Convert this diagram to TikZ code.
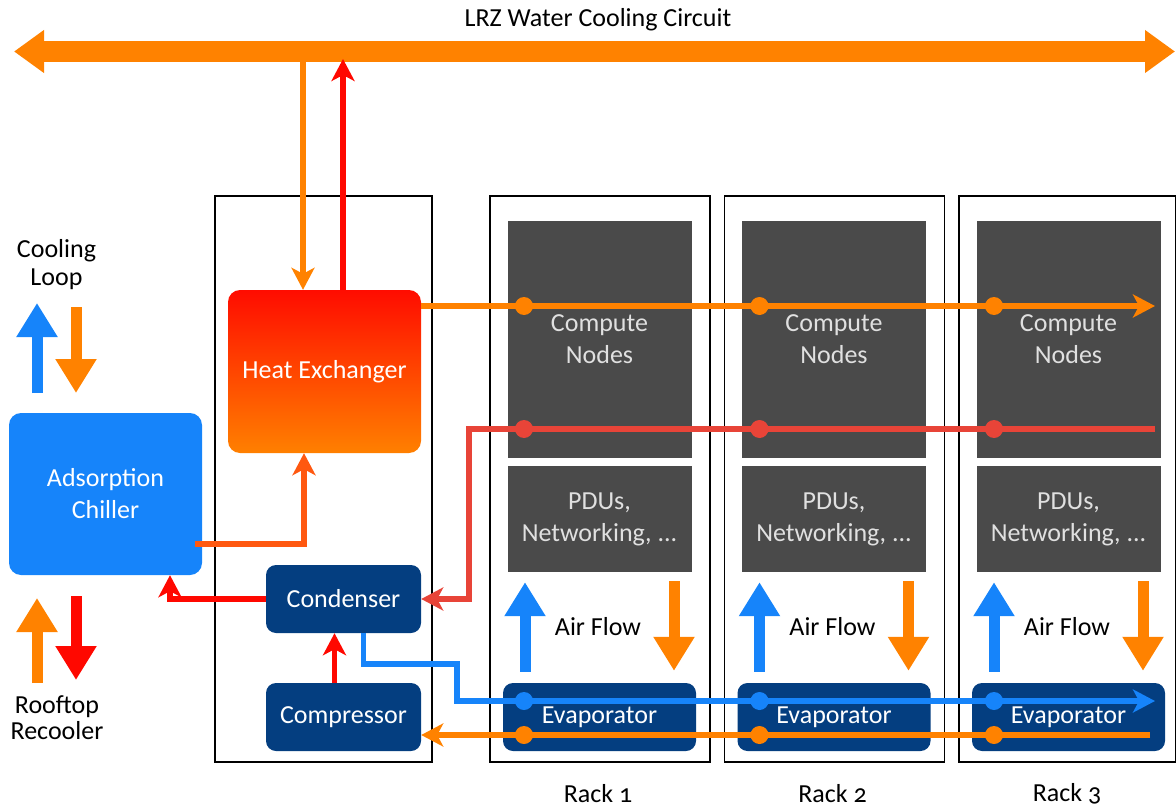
\documentclass[tikz,border=0pt]{standalone}
\usepackage{fontspec}
\setmainfont{Carlito}[Numbers=OldStyle]
\usetikzlibrary{arrows.meta}
\definecolor{lrzorange}{RGB}{255,130,0}
\definecolor{lrzred}{RGB}{255,8,0}
\definecolor{retred}{RGB}{232,68,56}
\definecolor{hotorange}{RGB}{255,88,16}
\definecolor{lrzblue}{RGB}{22,132,250}
\definecolor{unitblue}{RGB}{4,62,128}
\definecolor{rackgray}{RGB}{74,74,74}
\definecolor{hxtop}{RGB}{255,12,0}
\definecolor{hxbottom}{RGB}{255,128,0}
\begin{document}
\begin{tikzpicture}[x=1pt,y=-1pt,
  every node/.style={font=\fontsize{26}{32}\selectfont,align=center},
  rackframe/.style={line width=1.3pt},
  unitbox/.style={fill=unitblue,text=white,rounded corners=10pt,minimum width=155pt,minimum height=68pt},
  cpubox/.style={fill=rackgray,text=white!88!black,minimum width=184pt},
  pipe/.style={line width=5.5pt},
  flowtip/.style={-{Stealth[length=22pt,width=23pt,inset=6pt]}},
  fatarrow/.style={line width=11pt,-{Triangle[length=34pt,width=39pt]}}]
   \useasboundingbox (0,0) rectangle (1176,808);
   % cooling circuit on top
   \node (title) at (598,20) {LRZ Water Cooling Circuit};
   \coordinate (busW) at (14,51.5);
   \coordinate (busE) at (1175,51.5);
   \draw [lrzorange,line width=21pt,{Triangle[length=30pt,width=41pt]}-{Triangle[length=30pt,width=41pt]}] (busW) -- (busE);
   % plant column
   \draw [rackframe] (215,196) rectangle (432,762);
   \node [rounded corners=12pt,top color=hxtop,bottom color=hxbottom,text=white,minimum width=193pt,minimum height=163pt] (hx) at (324.5,371.5) {Heat Exchanger};
   \node [unitbox] (cond) at (343.5,599) {Condenser};
   \node [unitbox] (comp) at (343.5,717) {Compressor};
   % chiller and outside loops
   \node [fill=lrzblue,text=white,rounded corners=12pt,minimum width=193pt,minimum height=162pt] (chiller) at (105.5,494) {Adsorption\\Chiller};
   \node [font=\fontsize{26}{28}\selectfont] (loop) at (56.5,265) {Cooling\\Loop};
   \node [font=\fontsize{26}{26}\selectfont] (roof) at (57,718) {Rooftop\\Recooler};
   \draw [fatarrow,lrzblue] (37,393) -- (37,303);
   \draw [fatarrow,lrzorange] (76,307) -- (76,393);
   \draw [fatarrow,lrzorange] (37,683) -- (37,598);
   \draw [fatarrow,lrzred] (76,596) -- (76,680);
   % racks
   \foreach \i/\x in {1/0,2/234.5,3/469}{
     \draw [rackframe] (490+\x,196) rectangle ({min(710+\x,1175.3)},762);
     \node [cpubox,minimum height=237pt] (cn\i) at (599.5+\x,339.5) {Compute\\Nodes};
     \node [cpubox,minimum height=106pt] (pdu\i) at (599.5+\x,519) {PDUs,\\Networking, ...};
     \node [unitbox,minimum width=193pt] (evap\i) at (599.5+\x,717) {Evaporator};
     \node (air\i) at (598+\x,627) {Air Flow};
     \node (rlabel\i) at (598+\x,794) {Rack \i};
     \draw [fatarrow,lrzblue,shorten <=11pt,shorten >=10pt] ([xshift=-74.5pt]evap\i.north) -- ([xshift=-74.5pt]pdu\i.south);
     \draw [fatarrow,lrzorange,shorten <=9pt,shorten >=12pt] ([xshift=74.5pt]pdu\i.south) -- ([xshift=74.5pt]evap\i.north);
   }
   % water and refrigerant lines
   \coordinate (hxin) at (303,62);
   \coordinate (hxout) at (343,59);
   \draw [pipe,lrzorange,flowtip] (hxin) -- (hxin |- hx.north);
   \draw [pipe,lrzred,flowtip] (hxout |- hx.north) -- (hxout);
   \coordinate (feedend) at (1155,306);
   \draw [pipe,lrzorange,flowtip] ([yshift=65.5pt]hx.east) -- (feedend);
   \coordinate (retend) at (1155,429);
   \draw [pipe,retred,flowtip] (retend) -| ([xshift=48pt]cond.east) -- (cond.east);
   \coordinate (coldkink) at (457,664);
   \coordinate (coldend) at (1155,701);
   \draw [pipe,lrzblue,flowtip] ([xshift=20pt]cond.south) |- (coldkink) |- (coldend);
   \coordinate (warmend) at (1150,735);
   \draw [pipe,lrzorange,flowtip] (warmend) -- (comp.east |- warmend);
   \draw [pipe,lrzred,flowtip] ([xshift=-9pt]comp.north) -- ([xshift=-9pt]cond.south);
   \draw [pipe,lrzred,flowtip] (cond.west) -| ([xshift=64.5pt]chiller.south);
   \draw [pipe,hotorange,flowtip] ([xshift=-7pt,yshift=-50pt]chiller.east) -| ([xshift=-20.5pt]hx.south);
   % junction dots
   \foreach \x in {524,759.5,994}{
     \fill [lrzorange] (\x,306) circle (9pt);
     \fill [retred] (\x,429) circle (9pt);
     \fill [lrzblue] (\x,701) circle (9pt);
     \fill [lrzorange] (\x,735) circle (9pt);
   }
  \end{tikzpicture}
\end{document}
